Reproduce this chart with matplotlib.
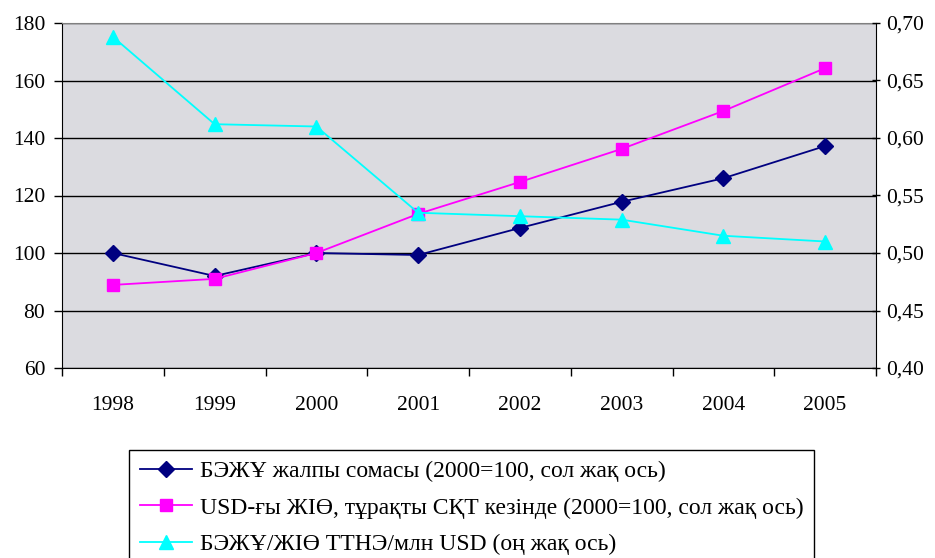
import matplotlib
matplotlib.use("Agg")
import matplotlib.pyplot as plt
from matplotlib.ticker import FuncFormatter

plt.rcParams['font.family'] = ['Liberation Serif', 'DejaVu Serif']

years = ['1998', '1999', '2000', '2001', '2002', '2003', '2004', '2005']
total = [100.0, 92.0, 100.0, 99.3, 108.7, 117.8, 126.0, 137.2]
gdp = [88.9, 91.0, 100.0, 113.6, 124.7, 136.2, 149.4, 164.3]
ratio = [0.688, 0.612, 0.610, 0.535, 0.532, 0.529, 0.515, 0.510]

lab_total = 'БЭЖҰ жалпы сомасы (2000=100, сол жақ ось)'
lab_gdp = 'USD-ғы ЖІӨ, тұрақты СҚТ кезінде (2000=100, сол жақ ось)'
lab_ratio = 'БЭЖҰ/ЖІӨ ТТНЭ/млн USD (оң жақ ось)'

fig = plt.figure(figsize=(9.35, 5.58), dpi=100)
ax = fig.add_axes([62 / 935, 1 - 368 / 558, (876 - 62) / 935, (368 - 23) / 558])
ax.set_facecolor('#DBDBE0')

x = list(range(len(years)))
l1, = ax.plot(x, total, color='#000080', marker='D', markersize=8, lw=1.3, label=lab_total)
l2, = ax.plot(x, gdp, color='#FF00FF', marker='s', markersize=9, lw=1.3, label=lab_gdp)

ax2 = ax.twinx()
l3, = ax2.plot(x, ratio, color='#00FFFF', marker='^', markersize=10, lw=1.3, label=lab_ratio)

ax.set_xlim(-0.5, len(years) - 0.5)
ax.set_ylim(60, 180)
ax.set_yticks(range(60, 181, 20))
ax2.set_ylim(0.40, 0.70)
ax2.set_yticks([0.40, 0.45, 0.50, 0.55, 0.60, 0.65, 0.70])
ax2.yaxis.set_major_formatter(FuncFormatter(lambda v, p: f'{v:.2f}'.replace('.', ',')))

ax.grid(axis='y', color='black', lw=1.0)
ax.set_axisbelow(True)

ax.set_xticks([i + 0.5 for i in range(-1, len(years))])
ax.set_xticklabels([])
ax.set_xticks(x, minor=True)
ax.set_xticklabels(years, minor=True)
ax.tick_params(axis='x', which='major', length=6, direction='out', width=1)
ax.tick_params(axis='x', which='minor', length=0, pad=20, labelsize=15.5)
ax.tick_params(axis='y', length=6, direction='out', width=1, labelsize=15.5, pad=6)
ax2.tick_params(axis='y', length=6, direction='inout', width=1, labelsize=15.5, pad=4)

for a in (ax, ax2):
    a.spines['top'].set_visible(False)
    a.spines['left'].set_color('black')
    a.spines['right'].set_color('black')
    a.spines['bottom'].set_color('black')
ax.spines['right'].set_visible(False)
ax2.spines['left'].set_visible(False)
ax2.spines['bottom'].set_visible(False)
ax.spines['top'].set_visible(True)
ax.spines['top'].set_color('#808080')

leg = fig.legend(handles=[l1, l2, l3], loc='upper left',
                 bbox_to_anchor=(129 / 935, 1 - 450 / 558),
                 fontsize=17, frameon=True, fancybox=False,
                 edgecolor='black', framealpha=1, borderpad=0.45,
                 labelspacing=0.63, handlelength=2.2, handletextpad=0.35,
                 borderaxespad=0)
leg.get_frame().set_linewidth(1.0)

fig.savefig('out.png', dpi=100)
